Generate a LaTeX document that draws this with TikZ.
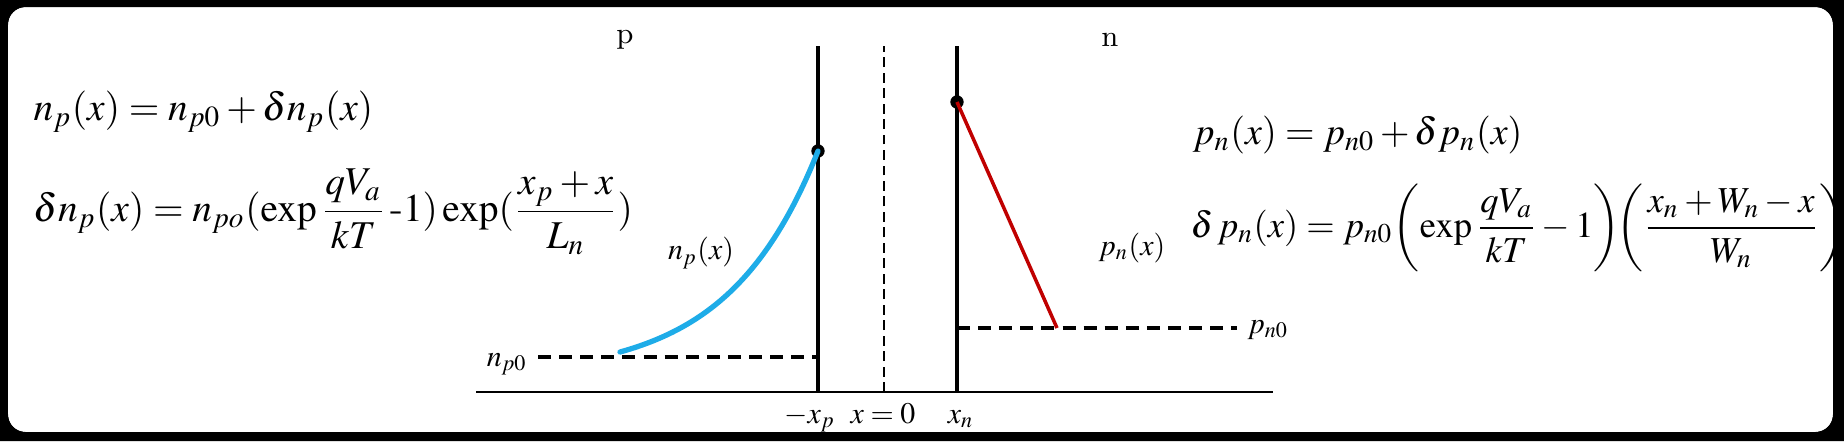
\documentclass[tikz,border=0pt]{standalone}
\usepackage{mathptmx}
\usetikzlibrary{positioning}

\definecolor{npblue}{RGB}{30,172,232}
\definecolor{pnred}{RGB}{192,0,0}

\begin{document}
\begin{tikzpicture}[x=0.01cm,y=-0.01cm,
  wall/.style={line width=0.9pt},
  axisline/.style={line width=0.6pt},
  level/.style={line width=1pt,dash pattern=on 3.7pt off 2.3pt},
  centerline/.style={line width=0.55pt,dash pattern=on 2.8pt off 1.6pt},
  edgept/.style={circle,fill=black,inner sep=0pt,minimum size=3.8pt},
  eqn/.style={inner sep=0pt,font=\fontsize{11.2}{13}\selectfont},
  bigeqn/.style={inner sep=0pt,font=\fontsize{10.8}{13}\selectfont},
  lbl/.style={inner sep=0pt,font=\fontsize{8.5}{10}\selectfont}]
  \clip (0,0) rectangle (1844,441);
  % page and white card
  \fill[black] (0,0) rectangle (1844,441);
  \fill[white,rounded corners=5] (8,7) rectangle (1833,432);

  % axis and junction lines
  \coordinate (xp) at (818,392);
  \coordinate (x0) at (884,392);
  \coordinate (xn) at (957,392);
  \coordinate (xptop) at (818,46);
  \coordinate (x0top) at (884,46);
  \coordinate (xntop) at (957,46);
  \coordinate (axl) at (476,392);
  \coordinate (axr) at (1273,392);
  \draw[axisline] (axl) -- (axr);
  \draw[wall] (xp) -- (xptop);
  \draw[wall] (xn) -- (xntop);
  \draw[centerline] (x0) -- (x0top);

  % equilibrium levels
  \coordinate (np0l) at (538,357);
  \coordinate (np0r) at (818,357);
  \coordinate (pn0l) at (957,328);
  \coordinate (pn0r) at (1237,328);
  \draw[level] (np0l) -- (np0r);
  \draw[level] (pn0l) -- (pn0r);

  % excess carriers at the edges
  \node[edgept] (ep) at (818,151) {};
  \node[edgept] (en) at (957,102) {};
  \coordinate (pnend) at (1057,328);
  \draw[npblue,line width=1.5pt,line cap=round]
    plot[domain=0:1,samples=40,smooth] ({620+198*\x},{352-201*(exp(2.2*\x)-1)/(exp(2.2)-1)});
  \draw[pnred,line width=1pt] (en.center) -- (pnend);

  % labels on the plot
  \node[lbl] (p) at (625,40) {p};
  \node[lbl] (n) at (1110,40) {n};
  \node[lbl] (npx) at (701,253) {$n_p(x)$};
  \node[lbl] (pnx) at (1132,248) {$p_n(x)$};
  \node[lbl,anchor=base east] (np0) at (528,366) {$n_{p0}$};
  \node[lbl,anchor=base west] (pn0) at (1247,333) {$p_{n0}$};
  \node[lbl,anchor=base] (txp) at (810,423) {$-x_p$};
  \node[lbl,anchor=base] (tx0) at (883,423) {$x=0$};
  \node[lbl,anchor=base] (txn) at (961,423) {$x_n$};

  % equations
  \node[eqn,anchor=west] (eqnp) at (33,112) {$n_p(x)=n_{p0}+\delta n_p(x)$};
  \node[eqn,anchor=west] (eqdnp) at (33,212)
    {$\displaystyle \delta n_p(x)=n_{po}(\exp\frac{qV_a}{kT}\,\mbox{-}1)\exp(\frac{x_p+x}{L_n})$};
  \node[bigeqn,anchor=west] (eqpn) at (1192,135) {$p_n(x)=p_{n0}+\delta p_n(x)$};
  \node[bigeqn,anchor=west,font=\fontsize{10.4}{12}\selectfont] (eqdpn) at (1190,228)
    {$\displaystyle \delta\, p_n(x)=p_{n0}\!\left(\exp\frac{qV_a}{kT}-1\right)\!\!\left(\frac{x_n+W_n-x}{W_n}\right)$};

  % frame over everything
  \fill[black,even odd rule] (0,0) rectangle (1844,441)
    [rounded corners=5] (8,7) rectangle (1833,432);
\end{tikzpicture}
\end{document}
